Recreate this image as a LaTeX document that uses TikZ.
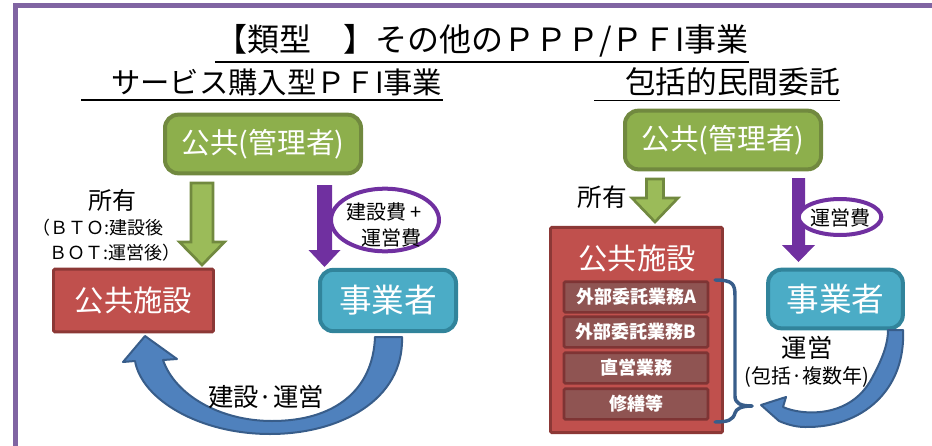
\documentclass[tikz,border=0pt]{standalone}
\usepackage{fontspec}
\setmainfont{Noto Sans CJK JP}
\usetikzlibrary{shapes.geometric}
\definecolor{frame}{HTML}{8064A2}
\definecolor{grn}{HTML}{8DAF4C}
\definecolor{grnD}{HTML}{71893F}
\definecolor{arrG}{HTML}{9BBB59}
\definecolor{redF}{HTML}{C0504D}
\definecolor{redD}{HTML}{8C3836}
\definecolor{innF}{HTML}{8F5452}
\definecolor{innD}{HTML}{7E3434}
\definecolor{cyn}{HTML}{4BACC6}
\definecolor{cynD}{HTML}{31849B}
\definecolor{pur}{HTML}{7030A0}
\definecolor{blu}{HTML}{4F81BD}
\definecolor{bluD}{HTML}{385D8A}
\newcommand\pxfont[1]{\fontsize{#1}{1.3\dimexpr #1\relax}\selectfont}
\newcommand\dnarrow[7]{\draw[#1] (#2-#6,#3) -- (#2+#6,#3) -- (#2+#6,#4) -- (#2+#7,#4) -- (#2,#5) -- (#2-#7,#4) -- (#2-#6,#4) -- cycle;}
\tikzset{
  greenbox/.style={draw=grnD, fill=grn, line width=3pt, rounded corners=10pt, minimum width=147pt, minimum height=44pt, text=white, font=\pxfont{21.5pt}, inner sep=0pt},
  redbox/.style={draw=redD, fill=redF, line width=2.2pt, rounded corners=1pt, text=white, inner sep=0pt},
  innerbox/.style={draw=innD, fill=innF, line width=2pt, rounded corners=1pt, minimum width=108pt, minimum height=23pt, text=white, font=\pxfont{13.5pt}\bfseries, inner sep=0pt},
  cyanbox/.style={draw=cynD, fill=cyn, line width=3pt, rounded corners=10pt, text=white, font=\pxfont{24.5pt}, inner sep=0pt},
  greenarrow/.style={draw=grnD, fill=arrG, line width=2pt, line join=miter},
  purplearrow/.style={fill=pur, draw=none},
  purpleoval/.style={draw=pur, line width=3pt, fill=white, ellipse, inner sep=0pt},
  bluearrow/.style={fill=blu, draw=bluD, line width=1.5pt, line join=round},
  brace/.style={draw=bluD, line width=2.6pt, line cap=round},
  lbl/.style={inner sep=0pt, text=black}
}
\begin{document}
\begin{tikzpicture}[x=0.75pt,y=-0.75pt]
\useasboundingbox (0,0) rectangle (932,446);
% frame
\draw[frame, line width=3.8pt] (15.5,450) -- (15.5,5.8) -- (936,5.8);
% titles
\node[lbl, font=\pxfont{24pt}] (title) at (482,41) {【類型　】その他のＰＰＰ/ＰＦI事業};
\draw[line width=1.4pt] ([yshift=-3pt]title.south west) -- ([yshift=-3pt]title.south east);
\node[lbl, font=\pxfont{22pt}] (subL) at (262,82) {　サービス購入型ＰＦI事業};
\draw[line width=1.4pt] ([yshift=-3pt]subL.south west) -- ([yshift=-3pt]subL.south east);
\node[lbl, font=\pxfont{23pt}] (subR) at (717,82) {　包括的民間委託};
\draw[line width=1.4pt] ([yshift=-3pt]subR.south west) -- ([yshift=-3pt]subR.south east);

% ===== left panel =====
\node[greenbox] (pubL) at (263,144) {公共(管理者)};
\node[redbox, minimum width=120pt, minimum height=47pt, font=\pxfont{22pt}] (facL) at (133.5,300.5) {公共施設};
\node[cyanbox, minimum width=102pt, minimum height=46pt] (bizL) at (388,300.5) {事業者};
\dnarrow{greenarrow}{202}{183}{242}{265}{11}{22.5}
\dnarrow{purplearrow}{324.5}{185}{250}{267}{7.5}{16}
\node[purpleoval, minimum width=81pt, minimum height=47pt] (ovL) at (385,220) {};
\node[lbl, font=\fontsize{15pt}{19.5pt}\selectfont, align=right] (costL) at (384,225) {建設費 +\\運営費};
\node[lbl, font=\pxfont{18pt}] (ownL) at (112,200) {所有};
\node[lbl, font=\pxfont{13.5pt}, anchor=west] (bto) at (32,228) {（ＢＴＯ:建設後};
\node[lbl, font=\pxfont{13.5pt}, anchor=west] (bot) at (49,253) {ＢＯＴ:運営後）};
\draw[bluearrow] (402,337) .. controls (404,400) and (340,434) .. (270,434)
  .. controls (200,434) and (142,400) .. (135,361) -- (123,362) -- (145,336) -- (177,359) -- (163,360)
  .. controls (175,395) and (220,421) .. (272,421)
  .. controls (335,421) and (373,390) .. (375,337) -- cycle;
\node[lbl, font=\pxfont{19pt}] (buildL) at (266,397) {建設·運営};

% ===== right panel =====
\node[greenbox] (pubR) at (723,140) {公共(管理者)};
\node[redbox, minimum width=129pt, minimum height=154pt] (facR) at (636.5,330) {};
\node[lbl, text=white, font=\pxfont{22pt}] (facRt) at (637,258) {公共施設};
\node[innerbox] (ia) at (636,297) {外部委託業務A};
\node[innerbox] (ib) at (636,332) {外部委託業務B};
\node[innerbox] (ic) at (636,368) {直営業務};
\node[innerbox] (id) at (636,404) {修繕等};
\node[cyanbox, minimum width=101pt, minimum height=44pt] (bizR) at (835.5,299) {事業者};
\dnarrow{greenarrow}{655}{179}{198}{222}{8.5}{23}
\node[lbl, font=\pxfont{18.5pt}] (ownR) at (602,197) {所有};
\dnarrow{purplearrow}{798.5}{178}{245}{262}{6.5}{16.5}
\node[purpleoval, minimum width=62pt, minimum height=27pt] (ovR) at (840,217) {};
\node[lbl, font=\pxfont{15pt}] (costR) at (840,218) {運営費};
\draw[brace] (715,280) .. controls (733,280) and (735,284) .. (735,296) -- (735,396)
  .. controls (735,403) and (740,406) .. (752,406);
\draw[brace] (752,406) .. controls (741,406) and (736,409) .. (735,413)
  .. controls (733,420) and (728,422) .. (715,422);
\draw[bluearrow] (903,330) .. controls (906,390) and (862,428) .. (805,427)
  .. controls (795,427) and (786,424) .. (779,421) -- (761,405) -- (786,397) -- (783,407)
  .. controls (800,415) and (850,420) .. (872,378)
  .. controls (884,356) and (888,342) .. (888,330) -- cycle;
\node[lbl, font=\pxfont{19pt}] (opR) at (807,348) {運営};
\node[lbl, font=\pxfont{15pt}] (opR2) at (807,377) {(包括·複数年)};
\end{tikzpicture}
\end{document}
